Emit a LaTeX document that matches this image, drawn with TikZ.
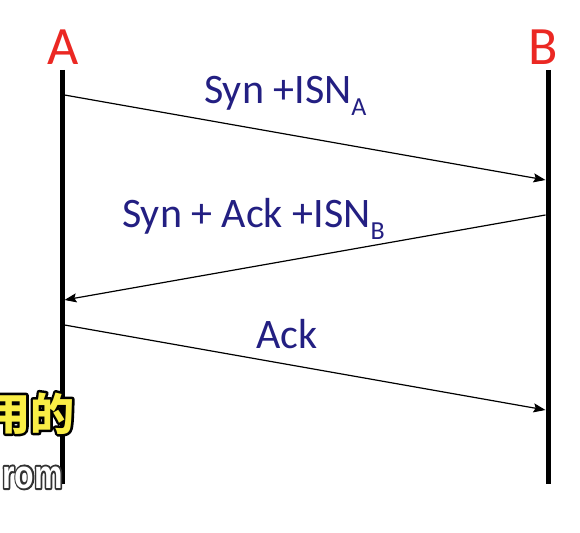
\documentclass[tikz,border=0pt]{standalone}
\usepackage{fontspec}
\setmainfont{Carlito}
\newfontfamily\cjk{Noto Sans CJK SC}
\newfontfamily\subsans{Liberation Sans}
\usetikzlibrary{arrows.meta}
\definecolor{navy}{RGB}{35,31,130}
\definecolor{redA}{RGB}{235,40,35}
\definecolor{subyellow}{RGB}{250,238,70}
\definecolor{subgray}{RGB}{50,50,50}
\tikzset{
  lifeline/.style={line width=5pt, line cap=butt},
  msg/.style={line width=1.2pt, -{Stealth[length=12pt,width=9pt,inset=2pt]}},
  ent/.style={text=redA, font=\fontsize{54}{60}\selectfont, inner sep=0pt},
  lbl/.style={text=navy, font=\fontsize{42}{48}\selectfont, inner sep=0pt, anchor=base west},
  subcn/.style={font=\cjk\bfseries\fontsize{44}{50}\selectfont, inner sep=0pt, anchor=base west},
  suben/.style={font=\subsans\bfseries\fontsize{40}{46}\selectfont, inner sep=0pt, anchor=base west, xscale=0.8, transform shape}
}
\newcommand{\subs}[1]{\raisebox{-12pt}{\fontsize{26}{30}\selectfont #1}}
\newcommand{\strokedtext}[2]{\special{pdf:literal direct 1 Tr #1 w 1 j}#2\special{pdf:literal direct 0 Tr 1 w}}
\begin{document}
\begin{tikzpicture}[x=1pt,y=-1pt]
\clip (0,0) rectangle (580,532);
\useasboundingbox (0,0) rectangle (580,532);
\fill[white] (0,0) rectangle (580,532);
% entity labels
\node[ent] (A) at (63,47) {A};
\node[ent] (B) at (543,47) {B};
% lifelines
\coordinate (Atop) at (62,70);
\coordinate (Abot) at (62,484);
\coordinate (Btop) at (548,70);
\coordinate (Bbot) at (548,484);
\draw[lifeline] (Atop) -- (Abot);
\draw[lifeline] (Btop) -- (Bbot);
% message endpoints
\coordinate (a1) at (64.5,95);
\coordinate (b1) at (545.5,180);
\coordinate (b2) at (545.5,215);
\coordinate (a2) at (64.5,300);
\coordinate (a3) at (64.5,325);
\coordinate (b3) at (545.5,410);
\draw[msg] (a1) -- (b1);
\draw[msg] (b2) -- (a2);
\draw[msg] (a3) -- (b3);
% message labels
\node[lbl] (l1) at (204,103) {Syn +ISN\subs{A}};
\node[lbl] (l2) at (122,227) {Syn + Ack +ISN\subs{B}};
\node[lbl] (l3) at (256,348) {Ack};
% subtitle overlay
\node[subcn, text=black] (cno) at (-14,430) {\strokedtext{5}{用的}};
\node[subcn, text=subyellow] (cn) at (-14,430) {用的};
\node[suben, text=subgray] (eno) at (2,488) {\strokedtext{4}{rom}};
\node[suben, text=white] (en) at (2,488) {rom};
\end{tikzpicture}
\end{document}
